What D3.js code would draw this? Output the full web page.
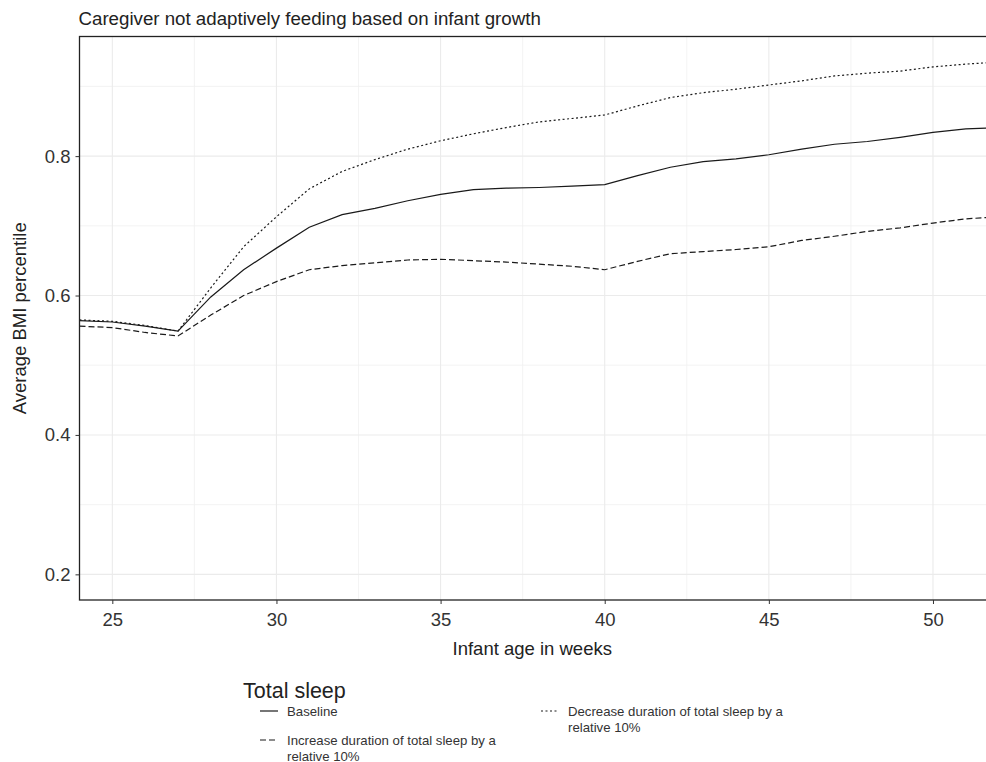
<!DOCTYPE html>
<html>
<head>
<meta charset="utf-8">
<script src="https://cdn.jsdelivr.net/npm/d3@7"></script>
<style>
  body { margin: 0; background: #fff; }
  text { font-family: "Liberation Sans", Arial, Helvetica, sans-serif; }
</style>
</head>
<body>
<div id="chart"></div>
<script>
// data (week 52 only shows as the clipped tail at the right edge)
var weeks = [24, 25, 26, 27, 28, 29, 30, 31, 32, 33, 34, 35, 36, 37, 38, 39, 40,
             41, 42, 43, 44, 45, 46, 47, 48, 49, 50, 51, 52]
var baseline = [0.564, 0.562, 0.556, 0.549, 0.598, 0.637, 0.668, 0.698, 0.716, 0.725,
                0.736, 0.745, 0.752, 0.754, 0.755, 0.757, 0.759, 0.772, 0.784, 0.792,
                0.796, 0.802, 0.810, 0.817, 0.821, 0.827, 0.834, 0.839, 0.841]
var increase = [0.556, 0.554, 0.547, 0.542, 0.572, 0.600, 0.620, 0.637, 0.643, 0.647,
                0.651, 0.652, 0.650, 0.648, 0.645, 0.642, 0.637, 0.649, 0.660, 0.663,
                0.666, 0.670, 0.679, 0.685, 0.692, 0.697, 0.704, 0.710, 0.713]
var decrease = [0.565, 0.563, 0.557, 0.549, 0.611, 0.670, 0.713, 0.753, 0.778, 0.795,
                0.810, 0.822, 0.832, 0.841, 0.849, 0.854, 0.859, 0.872, 0.884, 0.891,
                0.896, 0.902, 0.908, 0.915, 0.919, 0.922, 0.928, 0.932, 0.935]
var xTicks = [25, 30, 35, 40, 45, 50]
var yTicks = [0.2, 0.4, 0.6, 0.8]
var seriesNames = ["Baseline",
                   "Increase duration of total sleep by a relative 10%",
                   "Decrease duration of total sleep by a relative 10%"]

var width = 986,
    height = 762,
    margin = {top: 36.5, right: -2, bottom: 162, left: 79.5}
var innerW = width - margin.left - margin.right,
    innerH = height - margin.top - margin.bottom

var svg = d3.select("#chart")
  .append("svg")
    .attr("width", width)
    .attr("height", height)

var g = svg.append("g")
    .attr("transform", "translate(" + margin.left + "," + margin.top + ")")

var x = d3.scaleLinear().domain([24, 51.6]).range([0, 906])
var y = d3.scaleLinear().domain([0.1632, 0.9716]).range([innerH, 0])

// grid
var minorX = [27.5, 32.5, 37.5, 42.5, 47.5]
var minorY = [0.3, 0.5, 0.7, 0.9]
g.selectAll(".gminx").data(minorX).enter().append("line")
  .attr("x1", d => x(d)).attr("x2", d => x(d))
  .attr("y1", 0).attr("y2", innerH)
  .attr("stroke", "#f0f0f0").attr("stroke-width", 0.8)
g.selectAll(".gminy").data(minorY).enter().append("line")
  .attr("x1", 0).attr("x2", innerW)
  .attr("y1", d => y(d)).attr("y2", d => y(d))
  .attr("stroke", "#f0f0f0").attr("stroke-width", 0.8)
g.selectAll(".gmajx").data(xTicks).enter().append("line")
  .attr("x1", d => x(d)).attr("x2", d => x(d))
  .attr("y1", 0).attr("y2", innerH)
  .attr("stroke", "#ebebeb").attr("stroke-width", 1.1)
g.selectAll(".gmajy").data(yTicks).enter().append("line")
  .attr("x1", 0).attr("x2", innerW)
  .attr("y1", d => y(d)).attr("y2", d => y(d))
  .attr("stroke", "#ebebeb").attr("stroke-width", 1.1)

// lines
svg.append("defs").append("clipPath").attr("id", "clip")
  .append("rect").attr("width", innerW).attr("height", innerH)

var dashes = [null, "6,3", "2,2.5"]
var series = [baseline, increase, decrease]
var line = d3.line()
  .x((d, i) => x(weeks[i]))
  .y(d => y(d))

g.append("g").attr("clip-path", "url(#clip)")
  .selectAll("path").data(series).enter().append("path")
  .attr("d", d => line(d))
  .attr("fill", "none")
  .attr("stroke", "#1a1a1a")
  .attr("stroke-width", 1.2)
  .attr("stroke-dasharray", (d, i) => dashes[i])

// panel border
g.append("rect")
  .attr("width", innerW).attr("height", innerH)
  .attr("fill", "none").attr("stroke", "#222").attr("stroke-width", 1.3)

// axes
var xAxis = g.append("g")
  .attr("transform", "translate(0," + innerH + ")")
  .call(d3.axisBottom(x).tickValues(xTicks).tickSize(4).tickPadding(9))
var yAxis = g.append("g")
  .call(d3.axisLeft(y).tickValues(yTicks).tickSize(4).tickPadding(5)
    .tickFormat(d3.format(".1f")))
;[xAxis, yAxis].forEach(function(a) {
  a.select(".domain").remove()
  a.selectAll(".tick line").attr("stroke", "#333")
  a.selectAll(".tick text").attr("fill", "#333")
    .style("font-size", "18.5px")
    .style("font-family", "'Liberation Sans', Arial, sans-serif")
})

// titles
svg.append("text")
  .attr("x", margin.left - 1).attr("y", 25)
  .attr("fill", "#222").style("font-size", "18.7px")
  .text("Caregiver not adaptively feeding based on infant growth")

svg.append("text")
  .attr("x", (margin.left + 985) / 2).attr("y", 655)
  .attr("text-anchor", "middle")
  .attr("fill", "#222").style("font-size", "18.5px")
  .text("Infant age in weeks")

svg.append("text")
  .attr("transform", "translate(26," + (margin.top + innerH / 2) + ") rotate(-90)")
  .attr("text-anchor", "middle")
  .attr("fill", "#222").style("font-size", "18.5px")
  .text("Average BMI percentile")

// legend
var legend = svg.append("g")
legend.append("text")
  .attr("x", 243).attr("y", 698)
  .attr("fill", "#222").style("font-size", "21.5px")
  .text("Total sleep")

var legendPos = [
  {kx: 260, ky: 711, lines: ["Baseline"]},
  {kx: 260, ky: 740, lines: ["Increase duration of total sleep by a", "relative 10%"]},
  {kx: 541, ky: 711, lines: ["Decrease duration of total sleep by a", "relative 10%"]}
]
legendPos.forEach(function(p, i) {
  legend.append("line")
    .attr("x1", p.kx).attr("x2", p.kx + 18)
    .attr("y1", p.ky).attr("y2", p.ky)
    .attr("stroke", "#1a1a1a").attr("stroke-width", 1.2)
    .attr("stroke-dasharray", dashes[i])
  var t = legend.append("text")
    .attr("x", p.kx + 27).attr("y", p.ky + 4.5)
    .attr("fill", "#333").style("font-size", "13.2px")
  p.lines.forEach(function(s, j) {
    t.append("tspan").attr("x", p.kx + 27).attr("dy", j ? 16 : 0).text(s)
  })
})
</script>
</body>
</html>
